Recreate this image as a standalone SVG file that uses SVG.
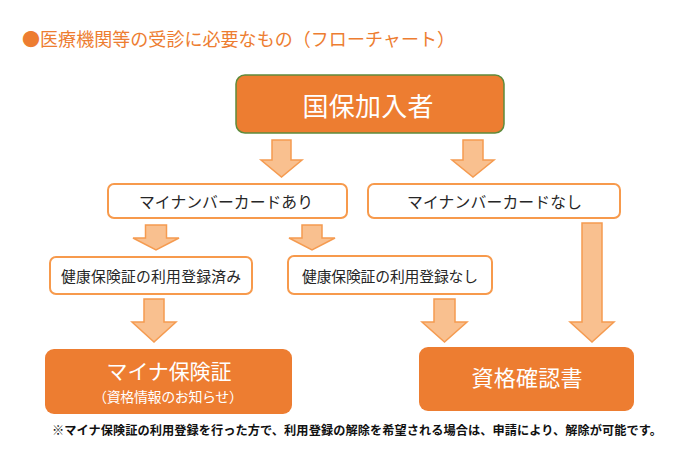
<svg xmlns="http://www.w3.org/2000/svg" width="690" height="471" viewBox="0 0 690 471">
<style>
  text { font-family: "Noto Sans CJK JP", "Noto Sans", sans-serif; }
  .title { fill: #ED7D31; font-size: 18px; }
  .wbox { fill: #FFFFFF; stroke: #F79A4C; stroke-width: 2; }
  .obox { fill: #ED7D31; }
  .wtxt { fill: #262626; text-anchor: middle; }
  .otxt { fill: #FFFFFF; text-anchor: middle; }
  .arrow { fill: #F9C08F; stroke: #F59B50; stroke-width: 1.5; stroke-linejoin: miter; }
  .note { fill: #111111; font-size: 12.2px; font-weight: bold; }
</style>
<rect width="690" height="471" fill="#FFFFFF"/>
<text class="title" x="22" y="46" textLength="433">●医療機関等の受診に必要なもの（フローチャート）</text>

<g id="connectors">
  <polygon class="arrow" points="272,140 291,140 291,160 302,160 281.5,177 261,160 272,160"/>
  <polygon class="arrow" points="463,140 483,140 483,160 494,160 473,177 452,160 463,160"/>
  <polygon class="arrow" points="145.5,225 166.5,225 166.5,238 179,238 156,250 133,238 145.5,238"/>
  <polygon class="arrow" points="302,225 322,225 322,238 335,238 312,250 289,238 302,238"/>
  <polygon class="arrow" points="144,299 164,299 164,322 176,322 154,342 132,322 144,322"/>
  <polygon class="arrow" points="434,299 455,299 455,322 467,322 444.5,342 422,322 434,322"/>
  <polygon class="arrow" points="582,223 602,223 602,322 614,322 592,342 570,322 582,322"/>
</g>

<g id="node-kokuho">
  <rect x="236" y="75" width="268" height="58" rx="9" fill="#ED7D31" stroke="#5F8B3B" stroke-width="1.5"/>
  <text class="otxt" x="368" y="116" font-size="26" textLength="131">国保加入者</text>
</g>

<g id="node-card-ari">
  <rect class="wbox" x="108" y="184" width="239" height="34" rx="6"/>
  <text class="wtxt" x="226" y="207.5" font-size="15.8" textLength="174">マイナンバーカードあり</text>
</g>

<g id="node-card-nashi">
  <rect class="wbox" x="368" y="184" width="252" height="34" rx="6"/>
  <text class="wtxt" x="494.5" y="207.5" font-size="15.8" textLength="175">マイナンバーカードなし</text>
</g>

<g id="node-registered">
  <rect class="wbox" x="50" y="257" width="202" height="37" rx="6"/>
  <text class="wtxt" x="151" y="281.5" font-size="14.8" textLength="180">健康保険証の利用登録済み</text>
</g>

<g id="node-not-registered">
  <rect class="wbox" x="288" y="256" width="204" height="38" rx="6"/>
  <text class="wtxt" x="390" y="281.5" font-size="14.8" textLength="176">健康保険証の利用登録なし</text>
</g>

<g id="node-myna">
  <rect class="obox" x="45" y="349" width="247" height="65" rx="9"/>
  <text class="otxt" x="169" y="378.5" font-size="21" textLength="125">マイナ保険証</text>
  <text class="otxt" x="168" y="402" font-size="14" textLength="150">（資格情報のお知らせ）</text>
</g>

<g id="node-shikaku">
  <rect class="obox" x="419" y="347" width="215" height="64" rx="9"/>
  <text class="otxt" x="527" y="385.5" font-size="22" textLength="111">資格確認書</text>
</g>

<text class="note" x="52" y="435" textLength="610">※マイナ保険証の利用登録を行った方で、利用登録の解除を希望される場合は、申請により、解除が可能です。</text>
</svg>
